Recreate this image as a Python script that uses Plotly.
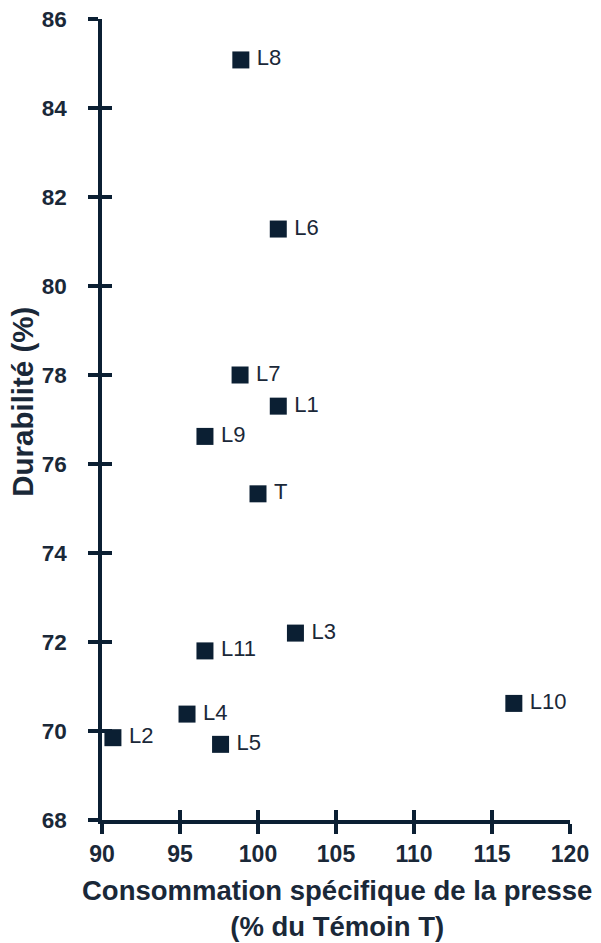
import plotly.graph_objects as go

labels = ["L8", "L6", "L7", "L1", "L9", "T", "L3", "L11", "L10", "L4", "L2", "L5"]
conso = [98.9, 101.3, 98.85, 101.3, 96.6, 100.0, 102.4, 96.6, 116.4, 95.45, 90.7, 97.6]
durabilite = [85.08, 81.28, 78.0, 77.3, 76.62, 75.33, 72.2, 71.8, 70.62, 70.38, 69.85, 69.7]

x_ticks = [90, 95, 100, 105, 110, 115, 120]
y_ticks = [68, 70, 72, 74, 76, 78, 80, 82, 84, 86]

x_title = "<b>Consommation spécifique de la presse<br>(% du Témoin T)</b>"
y_title = "<b>Durabilité (%)</b>"

navy = "#0b1f33"
text_col = "#1a2838"
font_family = "Liberation Sans, Arial, sans-serif"

fig = go.Figure()
fig.add_trace(go.Scatter(
    x=conso, y=durabilite, mode="markers+text", text=labels,
    texttemplate="\u2009%{text}",
    textposition="middle right",
    textfont=dict(family=font_family, size=22, color=text_col),
    marker=dict(symbol="square", size=17, color=navy),
    cliponaxis=False, showlegend=False,
))
# invisible trace on overlay axes (for crossing ticks)
fig.add_trace(go.Scatter(
    x=conso, y=durabilite, mode="markers", xaxis="x2", yaxis="y2",
    marker=dict(opacity=0), hoverinfo="skip", showlegend=False,
))

axis_common = dict(showgrid=False, zeroline=False, showline=True, automargin=False,
                   linecolor=navy, linewidth=3.5, tickcolor=navy,
                   tickwidth=3.5, ticklen=10)

fig.update_layout(
    width=601, height=943,
    margin=dict(l=102, r=31, t=19, b=123),
    paper_bgcolor="white", plot_bgcolor="white",
    xaxis=dict(range=[90, 120], tickvals=x_ticks, ticks="outside",
               ticklabelstandoff=1,
               tickfont=dict(family=font_family, size=23, color=text_col, weight="bold"),
               **axis_common),
    yaxis=dict(range=[68, 86], tickvals=y_ticks, ticks="outside",
               ticklabelstandoff=17,
               tickfont=dict(family=font_family, size=22.5, color=text_col, weight="bold"),
               **axis_common),
    xaxis2=dict(range=[90, 120], tickvals=x_ticks, ticks="inside", overlaying="x",
                anchor="y2", showticklabels=False, **axis_common),
    yaxis2=dict(range=[68, 86], tickvals=y_ticks, ticks="inside", overlaying="y",
                anchor="x2", showticklabels=False, **axis_common),
    annotations=[
        dict(text=x_title, xref="paper", yref="paper", x=0.503, y=-0.11,
             xanchor="center", yanchor="middle", showarrow=False,
             font=dict(family=font_family, size=27.5, color=text_col)),
        dict(text=y_title, xref="paper", yref="paper", x=-0.169, y=0.522,
             xanchor="center", yanchor="middle", textangle=-90, showarrow=False,
             font=dict(family=font_family, size=29.5, color=text_col)),
    ],
)

fig.write_html("out.html", config={"displayModeBar": False},
               post_script="document.body.style.margin='0';document.body.style.padding='0';")
